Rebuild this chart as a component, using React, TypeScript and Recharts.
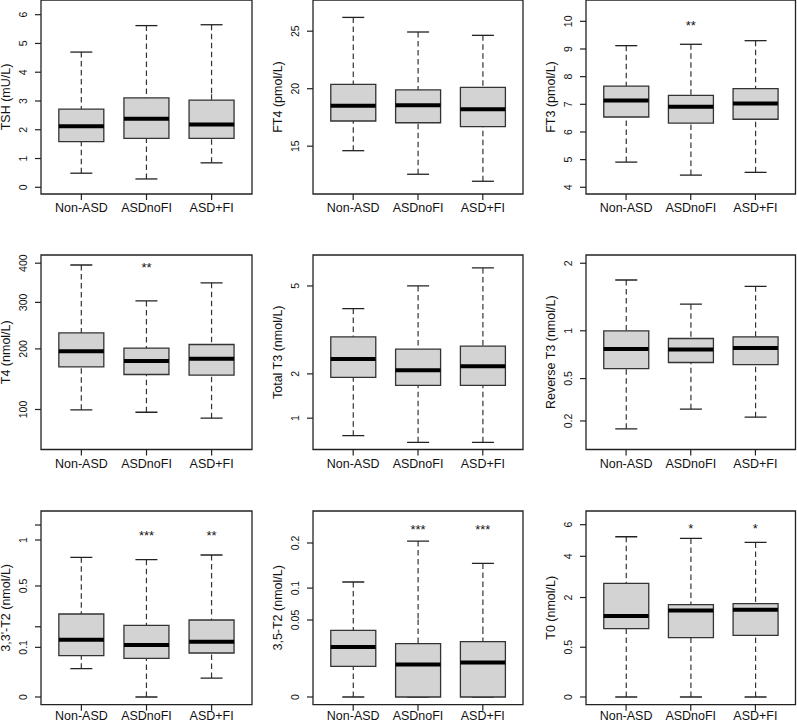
import React from 'react';
import { ComposedChart, Bar, Scatter, XAxis, YAxis, ReferenceArea, Label } from 'recharts';

// Group names on the x axis
const groups = ['Non-ASD', 'ASDnoFI', 'ASD+FI'];

// Five-number summaries per group: [min, q1, median, q3, max]
const tshStats = [[0.49, 1.585, 2.12, 2.72, 4.7], [0.29, 1.7, 2.38, 3.11, 5.62], [0.85, 1.7, 2.18, 3.03, 5.65]];
const ft4Stats = [[14.61, 17.19, 18.52, 20.38, 26.2], [12.56, 17.04, 18.55, 19.89, 24.93], [11.95, 16.7, 18.21, 20.12, 24.64]];
const ft3Stats = [[4.91, 6.54, 7.14, 7.66, 9.12], [4.44, 6.32, 6.91, 7.32, 9.17], [4.54, 6.46, 7.03, 7.57, 9.3]];
const t4Stats = [[99.5, 166.7, 195.6, 232, 395], [96.3, 153.6, 177.5, 201.4, 303.5], [88.5, 152.4, 181.2, 208.6, 348]];
const totalT3Stats = [[0.7, 1.91, 2.41, 3.1, 4.1], [0.6, 1.71, 2.1, 2.71, 5.0], [0.6, 1.71, 2.21, 2.8, 5.78]];
const reverseT3Stats = [[0.159, 0.59, 0.79, 1.0, 1.72], [0.27, 0.649, 0.784, 0.908, 1.353], [0.221, 0.629, 0.801, 0.927, 1.62]];
const t2a33Stats = [[0.0325, 0.0692, 0.133, 0.2795, 0.791], [0, 0.0604, 0.1097, 0.208, 0.765], [0.0146, 0.0785, 0.124, 0.2405, 0.818]];
const t2a35Stats = [[0, 0.0079, 0.0211, 0.0374, 0.1115], [0, 0, 0.00896, 0.024, 0.205], [0, 0, 0.0101, 0.0258, 0.1505]];
const t0Stats = [[0, 0.943, 1.325, 2.608, 5.19], [0, 0.711, 1.515, 1.721, 5.08], [0, 0.767, 1.54, 1.759, 4.83]];

// Significance marks per group
const noMarks = ['', '', ''];
const ft3Marks = ['', '**', ''];
const t4Marks = ['', '**', ''];
const t2a33Marks = ['', '***', '**'];
const t2a35Marks = ['', '***', '***'];
const t0Marks = ['', '*', '*'];

// Y tick values and their labels
const tshTicks = [0, 1, 2, 3, 4, 5, 6];
const tshLabels = ['0', '1', '2', '3', '4', '5', '6'];
const ft4Ticks = [15, 20, 25];
const ft4Labels = ['15', '20', '25'];
const ft3Ticks = [4, 5, 6, 7, 8, 9, 10];
const ft3Labels = ['4', '5', '6', '7', '8', '9', '10'];
const t4Ticks = [100, 200, 300, 400];
const t4Labels = ['100', '200', '300', '400'];
const totalT3Ticks = [1, 2, 5];
const totalT3Labels = ['1', '2', '5'];
const reverseT3Ticks = [0.2, 0.5, 1, 2];
const reverseT3Labels = ['0.2', '0.5', '1', '2'];
const t2a33Ticks = [0, 0.1, 0.2, 0.5, 1, 1.2];
const t2a33Labels = ['0', '0.1', '', '0.5', '1', ''];
const t2a35Ticks = [0, 0.05, 0.1, 0.2];
const t2a35Labels = ['0', '0.05', '0.1', '0.2'];
const t0Ticks = [0, 0.5, 2, 4, 6];
const t0Labels = ['0', '0.5', '2', '4', '6'];

// Layout
const BOX_W = 45;
const CAP_W = 22;
const Y_W = 45;
const X_H = 30;
const T_M = 6;
const R_M = 6;
const X_DOMAIN: [number, number] = [0.38, 3.62];
const FONT = '"Liberation Sans", Arial, Helvetica, sans-serif';
const INK = '#111';

const cols = [
  { x: 40.7, w: 211 },
  { x: 313.3, w: 210 },
  { x: 585.7, w: 209.5 },
];
// labelDy: baseline of the group names below the tick end
const rows = [
  { y: 0, h: 194, labelDy: 12.3 },
  { y: 254.8, h: 194.5, labelDy: 12.3 },
  { y: 511.3, h: 193.7, labelDy: 9.3 },
];

type PanelDef = {
  title: string;
  stats: number[][];
  scale: 'linear' | 'sqrt';
  domain: [number, number];
  ticks: number[];
  tickLabels: string[];
  marks: string[];
  markY: number;
  row: number;
  col: number;
};

const panels: PanelDef[] = [
  { title: 'TSH (mU/L)', stats: tshStats, scale: 'linear', domain: [-0.233, 6.51], ticks: tshTicks, tickLabels: tshLabels, marks: noMarks, markY: 0, row: 0, col: 0 },
  { title: 'FT4 (pmol/L)', stats: ft4Stats, scale: 'linear', domain: [10.843, 27.713], ticks: ft4Ticks, tickLabels: ft4Labels, marks: noMarks, markY: 0, row: 0, col: 1 },
  { title: 'FT3 (pmol/L)', stats: ft3Stats, scale: 'linear', domain: [3.757, 10.771], ticks: ft3Ticks, tickLabels: ft3Labels, marks: ft3Marks, markY: 9.95, row: 0, col: 2 },
  { title: 'T4 (nmol/L)', stats: t4Stats, scale: 'sqrt', domain: [52.79, 422.7], ticks: t4Ticks, tickLabels: t4Labels, marks: t4Marks, markY: 395, row: 1, col: 0 },
  { title: 'Total T3 (nmol/L)', stats: totalT3Stats, scale: 'sqrt', domain: [0.5005, 6.377], ticks: totalT3Ticks, tickLabels: totalT3Labels, marks: noMarks, markY: 0, row: 1, col: 1 },
  { title: 'Reverse T3 (nmol/L)', stats: reverseT3Stats, scale: 'sqrt', domain: [0.0741, 2.1455], ticks: reverseT3Ticks, tickLabels: reverseT3Labels, marks: noMarks, markY: 0, row: 1, col: 2 },
  { title: "3,3'-T2 (nmol/L)", stats: t2a33Stats, scale: 'sqrt', domain: [-0.0024, 1.4035], ticks: t2a33Ticks, tickLabels: t2a33Labels, marks: t2a33Marks, markY: 1.09, row: 2, col: 0 },
  { title: '3,5-T2 (nmol/L)', stats: t2a35Stats, scale: 'sqrt', domain: [-0.0005, 0.2917], ticks: t2a35Ticks, tickLabels: t2a35Labels, marks: t2a35Marks, markY: 0.244, row: 2, col: 1 },
  { title: 'T0 (nmol/L)', stats: t0Stats, scale: 'sqrt', domain: [-0.012, 6.991], ticks: t0Ticks, tickLabels: t0Labels, marks: t0Marks, markY: 5.95, row: 2, col: 2 },
];

// Dashed whisker running min..max, with a solid staple at each end
const WhiskerShape = (p: any) => {
  const { x, y, width, height } = p;
  if (x == null || y == null) return null;
  const top = Math.min(y, y + height);
  const bot = Math.max(y, y + height);
  const mid = (top + bot) / 2;
  const cx = x + width / 2;
  const half = CAP_W / 2;
  const dash = { stroke: '#333', strokeWidth: 1.2, strokeDasharray: '5.5 3.5' };
  return (
    <g>
      <line x1={cx} x2={cx} y1={top} y2={mid} {...dash} />
      <line x1={cx} x2={cx} y1={bot} y2={mid} {...dash} />
      <line x1={cx - half} x2={cx + half} y1={top} y2={top} stroke="#222" strokeWidth={1.3} />
      <line x1={cx - half} x2={cx + half} y1={bot} y2={bot} stroke="#222" strokeWidth={1.3} />
    </g>
  );
};

// Thick median bar across the box
const MedianShape = (p: any) => {
  const { cx, cy } = p;
  if (cx == null || cy == null) return null;
  return <line x1={cx - BOX_W / 2} x2={cx + BOX_W / 2} y1={cy} y2={cy} stroke="#000" strokeWidth={4} />;
};

// Significance asterisks
const MarkShape = (p: any) => {
  const { cx, cy, payload } = p;
  if (cx == null || cy == null) return null;
  return (
    <text x={cx} y={cy + 7.4} textAnchor="middle" fontSize={13} fontFamily={FONT} fill={INK}>
      {payload.text}
    </text>
  );
};

const makeXTick = (dy: number) => (p: any) => {
  const { x, y, payload } = p;
  const name = groups[Math.round(payload.value) - 1] ?? '';
  return (
    <text x={x} y={y + dy} textAnchor="middle" fontSize={12.5} fontFamily={FONT} fill={INK}>
      {name}
    </text>
  );
};

const makeYTick = (ticks: number[], labels: string[]) => (p: any) => {
  const { x, y, payload } = p;
  const idx = ticks.findIndex((t) => Math.abs(t - payload.value) < 1e-9);
  const text = idx >= 0 ? labels[idx] : '';
  if (!text) return <g />;
  const bx = x - 8.5;
  return (
    <text transform={`translate(${bx},${y}) rotate(-90)`} textAnchor="middle" fontSize={10.5} fontFamily={FONT} fill={INK}>
      {text}
    </text>
  );
};

const Panel = ({ def }: { def: PanelDef }) => {
  const { x: px, w } = cols[def.col];
  const { y: py, h, labelDy } = rows[def.row];
  const data = def.stats.map((s, i) => ({
    pos: i + 1,
    min: s[0],
    q1: s[1],
    med: s[2],
    q3: s[3],
    max: s[4],
  }));
  const markData = def.marks
    .map((m, i) => ({ pos: i + 1, y: def.markY, text: m }))
    .filter((d) => d.text !== '');
  const width = Y_W + w + R_M;
  const height = T_M + h + X_H;
  const title = def.title;
  return (
    <div style={{ position: 'absolute', left: px - Y_W, top: py - T_M, width, height }}>
      <ComposedChart
        width={width}
        height={height}
        data={data}
        margin={{ top: T_M, right: R_M, bottom: 0, left: 0 }}
        barGap={-BOX_W}
      >
        <XAxis
          type="number"
          dataKey="pos"
          domain={X_DOMAIN}
          ticks={[1, 2, 3]}
          interval={0}
          allowDataOverflow
          height={X_H}
          axisLine={false}
          tickLine={{ stroke: '#222', strokeWidth: 1.2 }}
          tickSize={6}
          tickMargin={0}
          tick={makeXTick(labelDy)}
        />
        <YAxis
          type="number"
          scale={def.scale}
          domain={def.domain}
          ticks={def.ticks}
          interval={0}
          allowDataOverflow
          width={Y_W}
          axisLine={false}
          tickLine={{ stroke: '#222', strokeWidth: 1.2 }}
          tickSize={6}
          tickMargin={0}
          tick={makeYTick(def.ticks, def.tickLabels)}
        >
          <Label
            content={(lp: any) => {
              const vb = lp.viewBox || {};
              const bx = vb.x + vb.width - 31;
              const cy = vb.y + vb.height / 2;
              return (
                <text transform={`translate(${bx},${cy}) rotate(-90)`} textAnchor="middle" fontSize={12.5} fontFamily={FONT} fill={INK}>
                  {title}
                </text>
              );
            }}
          />
        </YAxis>
        <ReferenceArea
          x1={X_DOMAIN[0]}
          x2={X_DOMAIN[1]}
          y1={def.domain[0]}
          y2={def.domain[1]}
          fill="none"
          fillOpacity={0}
          stroke="#222"
          strokeWidth={1.3}
          ifOverflow="visible"
        />
        <Bar dataKey={(d: any) => [d.min, d.max]} barSize={BOX_W} shape={WhiskerShape} isAnimationActive={false} />
        <Bar
          dataKey={(d: any) => [d.q1, d.q3]}
          barSize={BOX_W}
          fill="#d3d3d3"
          stroke="#333"
          strokeWidth={1.3}
          isAnimationActive={false}
        />
        <Scatter dataKey="med" shape={MedianShape} isAnimationActive={false} />
        {markData.length > 0 && (
          <Scatter data={markData} dataKey="y" shape={MarkShape} isAnimationActive={false} />
        )}
      </ComposedChart>
    </div>
  );
};

export default function App() {
  return (
    <div
      style={{
        position: 'absolute',
        left: 0,
        top: 0,
        width: 797,
        height: 723,
        overflow: 'hidden',
        background: '#fff',
        fontFamily: FONT,
      }}
    >
      {panels.map((def) => (
        <Panel key={def.title} def={def} />
      ))}
    </div>
  );
}
